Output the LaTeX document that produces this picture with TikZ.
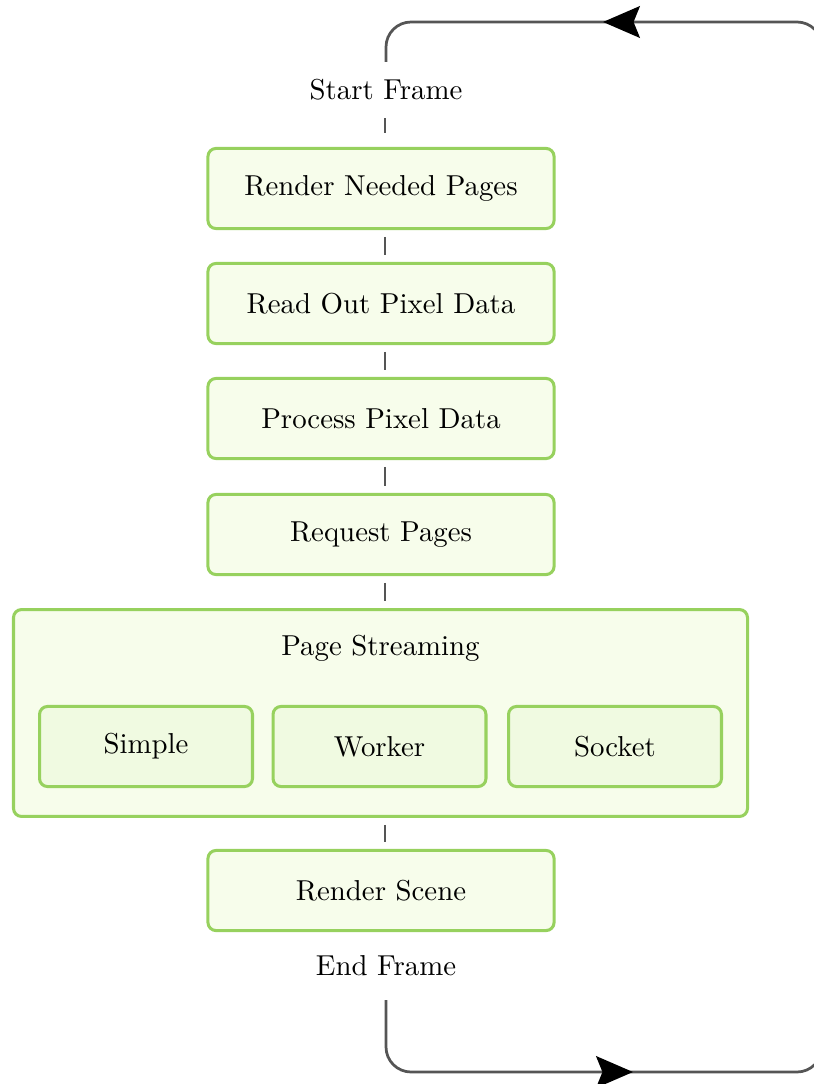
\documentclass[tikz,border=0pt]{standalone}
\usetikzlibrary{arrows.meta}
\definecolor{boxline}{HTML}{97D15E}
\definecolor{boxfill}{HTML}{F7FDEB}
\definecolor{subfill}{HTML}{F0FAE1}
\definecolor{linegray}{HTML}{555555}
\tikzset{
  stepbox/.style={draw=boxline, fill=boxfill, line width=1.05pt, rounded corners=2.8pt,
    minimum width=120.1pt, minimum height=27.8pt, inner sep=0pt},
  groupbox/.style={draw=boxline, fill=boxfill, line width=1.05pt, rounded corners=2.8pt,
    minimum width=254.7pt, minimum height=71.8pt, inner sep=0pt},
  subbox/.style={draw=boxline, fill=subfill, line width=1.05pt, rounded corners=2.8pt,
    minimum width=73.9pt, minimum height=27.8pt, inner sep=0pt},
  plain/.style={inner sep=0pt},
  conn/.style={draw=linegray, line width=0.85pt, shorten <=2.4pt, shorten >=2.4pt},
  loopline/.style={draw=linegray, line width=0.95pt},
  looptip/.style={draw=linegray, line width=0.95pt, -{Stealth[length=12.8pt,width=11pt,inset=2.2pt,color=black]}}
}
\begin{document}
\begin{tikzpicture}[x=0.347pt, y=-0.347pt]
\useasboundingbox (0,0) rectangle (814,1084);
\clip (0,0) rectangle (814,1084);
\coordinate (lx) at (385,0);
\coordinate (lt) at (386,62);
\coordinate (lb) at (386,1000);

\node[plain] (start) at (386,90) {Start Frame};
\node[stepbox] (b1) at (381,188.5) {Render Needed Pages};
\node[stepbox] (b2) at (381,303.5) {Read Out Pixel Data};
\node[stepbox] (b3) at (381,418.5) {Process Pixel Data};
\node[stepbox] (b4) at (381,534.5) {Request Pages};
\node[groupbox] (ps) at (380.5,713) {};
\node[plain] (pslabel) at (380.5,648) {Page Streaming};
\node[subbox] (simple) at (146,746.5) {Simple};
\node[subbox] (worker) at (379.5,746.5) {Worker};
\node[subbox] (socket) at (615,746.5) {Socket};
\node[stepbox] (rs) at (381,890.5) {Render Scene};
\node[plain] (endf) at (386,966) {End Frame};

\draw[conn, shorten <=5.9pt, shorten >=4.9pt] (start.south -| lx) -- (b1.north -| lx);
\draw[conn] (b1.south -| lx) -- (b2.north -| lx);
\draw[conn] (b2.south -| lx) -- (b3.north -| lx);
\draw[conn] (b3.south -| lx) -- (b4.north -| lx);
\draw[conn] (b4.south -| lx) -- (ps.north -| lx);
\draw[conn] (ps.south -| lx) -- (rs.north -| lx);

\draw[loopline, rounded corners=8.7pt] (lb) -- (386,1072) -- (822,1072) -- (822,22) -- (386,22) -- (lt);
\draw[looptip] (595,1072) -- (633,1072);
\draw[looptip] (641,22) -- (603,22);
\end{tikzpicture}
\end{document}
